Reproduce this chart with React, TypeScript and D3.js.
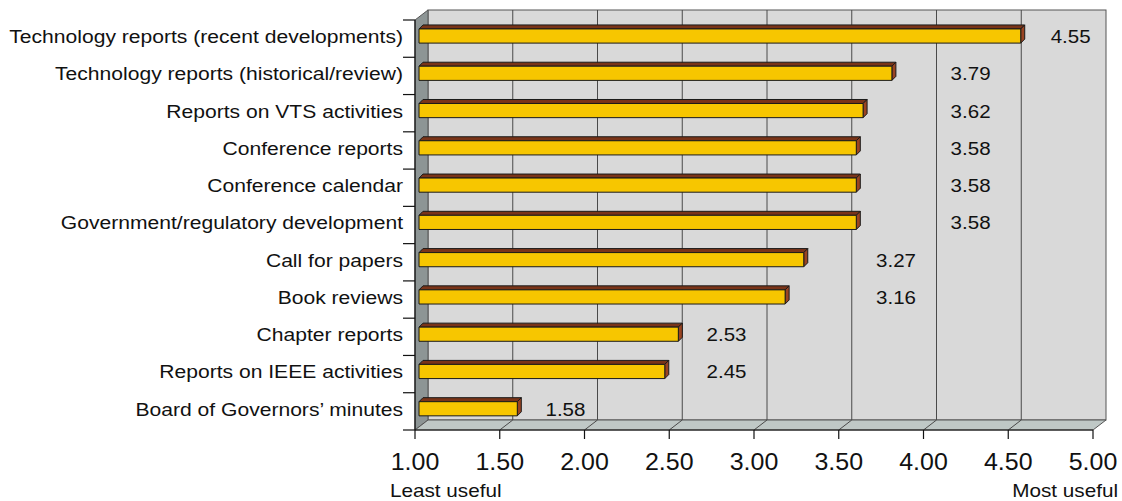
import * as d3 from "d3";

const CATEGORIES = [
  "Technology reports (recent developments)",
  "Technology reports (historical/review)",
  "Reports on VTS activities",
  "Conference reports",
  "Conference calendar",
  "Government/regulatory development",
  "Call for papers",
  "Book reviews",
  "Chapter reports",
  "Reports on IEEE activities",
  "Board of Governors\u2019 minutes",
];

const SCORES = [4.55, 3.79, 3.62, 3.58, 3.58, 3.58, 3.27, 3.16, 2.53, 2.45, 1.58];

const X_TICKS = [1, 1.5, 2, 2.5, 3, 3.5, 4, 4.5, 5];

// where the value labels sit (in score units), as placed in the original
const LABEL_AT = [4.75, 4.16, 4.16, 4.16, 4.16, 4.16, 3.72, 3.72, 2.72, 2.72, 1.77];

const W = 1122;
const H = 501;
const FONT = "'Liberation Sans', Arial, sans-serif";

// 3d depth of the plot box
const DX = 13;
const DY = -10;
// depth of the bars
const BD = 4;

type TProps = {
  x: number;
  y: number;
  size: number;
  sx: number;
  anchor?: "start" | "middle" | "end";
  children: string;
};

// the original text is a bit stretched horizontally
function T({ x, y, size, sx, anchor = "start", children }: TProps) {
  return (
    <text
      transform={`translate(${x},${y}) scale(${sx},1)`}
      textAnchor={anchor}
      fontFamily={FONT}
      fontSize={size}
      fill="#111"
    >
      {children}
    </text>
  );
}

export default function App() {
  const x = d3.scaleLinear().domain([1, 5]).range([415, 1093]);
  const y = d3.scaleBand<string>().domain(CATEGORIES).range([20, 430]);
  const bw = y.bandwidth();

  const left = x(1);
  const right = x(5);
  const top = y.range()[0];
  const bottom = y.range()[1];

  const poly = (pts: [number, number][]) => pts.map((p) => p.join(",")).join(" ");

  return (
    <svg width={W} height={H} style={{ display: "block", position: "absolute", left: 0, top: 0 }}>
      <rect width={W} height={H} fill="#fff" />

      {/* back wall */}
      <rect x={left + DX} y={top + DY} width={right - left} height={bottom - top} fill="#d9d9d9" stroke="#555" strokeWidth={1} />
      {/* left wall */}
      <polygon
        points={poly([[left, top], [left + DX, top + DY], [left + DX, bottom + DY], [left, bottom]])}
        fill="#8d9595"
        stroke="#555"
        strokeWidth={1}
      />
      {/* floor */}
      <polygon
        points={poly([[left, bottom], [left + DX, bottom + DY], [right + DX, bottom + DY], [right, bottom]])}
        fill="#bfc8c6"
        stroke="#555"
        strokeWidth={1}
      />

      {/* grid on back wall and floor */}
      {X_TICKS.slice(1, -1).map((t) => (
        <g key={t}>
          <line x1={x(t) + DX} x2={x(t) + DX} y1={top + DY} y2={bottom + DY} stroke="#4a4a4a" strokeWidth={1} />
          <line x1={x(t)} x2={x(t) + DX} y1={bottom} y2={bottom + DY} stroke="#4a4a4a" strokeWidth={1} />
        </g>
      ))}

      {/* bars */}
      {SCORES.map((v, i) => {
        const c = CATEGORIES[i];
        const y0 = (y(c) as number) + bw * 0.24;
        const y1 = y0 + bw * 0.38;
        const x0 = left + BD;
        const x1 = x(v) + BD;
        return (
          <g key={c} stroke="#1a1a1a" strokeWidth={1} strokeLinejoin="round">
            <polygon points={poly([[x0, y0], [x0 + BD, y0 - BD], [x1 + BD, y0 - BD], [x1, y0]])} fill="#7a3418" />
            <polygon points={poly([[x1, y0], [x1 + BD, y0 - BD], [x1 + BD, y1 - BD], [x1, y1]])} fill="#9a4422" />
            <rect x={x0} y={y0} width={x1 - x0} height={y1 - y0} fill="#f7c600" />
          </g>
        );
      })}

      {/* value labels */}
      {SCORES.map((v, i) => (
        <T key={i} x={x(LABEL_AT[i])} y={(y(CATEGORIES[i]) as number) + bw * 0.43 + 7} size={19} sx={1.08}>
          {v.toFixed(2)}
        </T>
      ))}

      {/* left axis */}
      <line x1={left} x2={left} y1={top} y2={bottom} stroke="#111" strokeWidth={1.2} />
      {d3.range(CATEGORIES.length + 1).map((k) => {
        const yy = top + k * y.step();
        return <line key={k} x1={left - 12} x2={left} y1={yy} y2={yy} stroke="#111" strokeWidth={1.2} />;
      })}
      {CATEGORIES.map((c) => (
        <T key={c} x={left - 12} y={(y(c) as number) + bw * 0.43 + 7} size={18.5} sx={1.14} anchor="end">
          {c}
        </T>
      ))}

      {/* bottom axis */}
      <line x1={left} x2={right} y1={bottom} y2={bottom} stroke="#111" strokeWidth={1.2} />
      {X_TICKS.map((t) => (
        <g key={t}>
          <line x1={x(t)} x2={x(t)} y1={bottom} y2={bottom + 9} stroke="#111" strokeWidth={1.2} />
          <T x={x(t)} y={bottom + 40} size={24} sx={1.04} anchor="middle">
            {t.toFixed(2)}
          </T>
        </g>
      ))}
      <T x={390} y={497} size={18} sx={1.15}>
        Least useful
      </T>
      <T x={1118} y={497} size={18} sx={1.15} anchor="end">
        Most useful
      </T>
    </svg>
  );
}
